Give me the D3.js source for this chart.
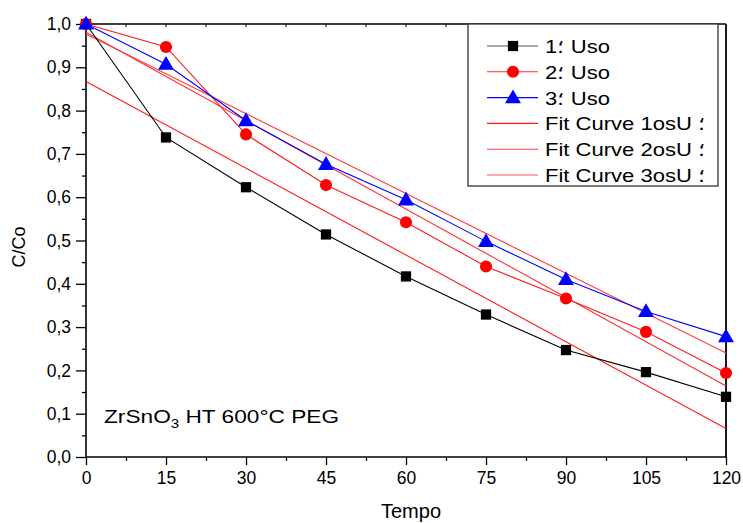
<!DOCTYPE html>
<html>
<head>
<meta charset="utf-8">
<script src="https://cdn.jsdelivr.net/npm/d3@7"></script>
<style>
  html, body { margin: 0; padding: 0; background: #fff; }
  svg { display: block; font-family: "Liberation Sans", Arial, sans-serif; }
</style>
</head>
<body>
<svg id="chart" width="743" height="523"></svg>
<script>
// Time (min) and normalised concentration for three reuse cycles
const tempo = [0, 15, 30, 45, 60, 75, 90, 105, 120];
const uso1 = [1.000, 0.738, 0.623, 0.514, 0.417, 0.329, 0.247, 0.196, 0.139];
const uso2 = [1.000, 0.947, 0.745, 0.628, 0.542, 0.440, 0.366, 0.289, 0.194];
const uso3 = [1.000, 0.907, 0.777, 0.676, 0.594, 0.498, 0.410, 0.336, 0.278];

// Linear fit lines: value at t = 0 and t = 120
const fitStart = [0.867, 0.981, 0.977];
const fitEnd = [0.066, 0.164, 0.240];

const xTicks = [0, 15, 30, 45, 60, 75, 90, 105, 120];
const yTicks = [0, 0.1, 0.2, 0.3, 0.4, 0.5, 0.6, 0.7, 0.8, 0.9, 1.0];

const legendLabels = ["1؛ Uso", "2؛ Uso", "3؛ Uso",
  "Fit Curve 1osU ؛", "Fit Curve 2osU ؛", "Fit Curve 3osU ؛"];

const svg = d3.select("#chart");
const pL = 86, pR = 726, pT = 24, pB = 457;

const x = d3.scaleLinear().domain([0, 120]).range([pL, pR]);
const y = d3.scaleLinear().domain([0, 1]).range([pB, pT]);
const fmt = d => d3.format(".1f")(d).replace(".", ",");

// Frame (top and right edges)
svg.append("line").attr("x1", pL).attr("x2", pR).attr("y1", pT).attr("y2", pT)
  .attr("stroke", "#000").attr("stroke-width", 1.6);
svg.append("line").attr("x1", pR).attr("x2", pR).attr("y1", pT).attr("y2", pB)
  .attr("stroke", "#000").attr("stroke-width", 1.8);

// Small ticks on the top edge
svg.append("g").selectAll("line").data(d3.range(7.5, 120, 7.5)).join("line")
  .attr("x1", d => x(d)).attr("x2", d => x(d))
  .attr("y1", pT).attr("y2", pT + 3)
  .attr("stroke", "#000").attr("stroke-width", 1);

// Bottom axis
const xAxis = svg.append("g").attr("transform", `translate(0,${pB})`)
  .call(d3.axisBottom(x).tickValues(xTicks).tickSize(8).tickPadding(7).tickFormat(d3.format("d")));
svg.append("g").attr("transform", `translate(0,${pB})`)
  .call(d3.axisBottom(x).tickValues(d3.range(7.5, 120, 15)).tickSize(4).tickFormat(""))
  .call(g => g.select(".domain").remove());

// Left axis
const yAxis = svg.append("g").attr("transform", `translate(${pL},0)`)
  .call(d3.axisLeft(y).tickValues(yTicks).tickSize(10).tickPadding(5).tickFormat(fmt));
svg.append("g").attr("transform", `translate(${pL},0)`)
  .call(d3.axisLeft(y).tickValues(d3.range(0.05, 1, 0.1)).tickSize(4).tickFormat(""))
  .call(g => g.select(".domain").remove());

xAxis.select(".domain").attr("d", `M${pL},0H${pR}`).attr("stroke-width", 1.6);
yAxis.select(".domain").attr("d", `M0,${pT}V${pB}`).attr("stroke-width", 1.6);
svg.selectAll(".tick line").attr("stroke", "#000").attr("stroke-width", 1.3);
svg.selectAll(".tick text").attr("font-size", 17.5).attr("fill", "#000")
  .attr("font-family", "Liberation Sans, Arial, sans-serif");

// Axis titles
svg.append("text").attr("x", 411).attr("y", 518).attr("text-anchor", "middle")
  .attr("font-size", 20).text("Tempo");
svg.append("text").attr("transform", "translate(25,247) rotate(-90)")
  .attr("text-anchor", "middle").attr("font-size", 18).text("C/Co");

// Fit lines
const fitColors = ["#ff1a1a", "#ff3030", "#ff3c3c"];
svg.append("g").selectAll("line").data(fitStart).join("line")
  .attr("x1", x(0)).attr("y1", d => y(d))
  .attr("x2", x(120)).attr("y2", (d, i) => y(fitEnd[i]))
  .attr("stroke", (d, i) => fitColors[i]).attr("stroke-width", 1.1);

// Data series
const series = [
  { vals: uso1, line: "#000", fill: "#000", shape: "square" },
  { vals: uso2, line: "#ff1a1a", fill: "#ff0000", shape: "circle" },
  { vals: uso3, line: "#0000ff", fill: "#0000ff", shape: "triangle" }
];
const lineGen = d3.line().x((d, i) => x(tempo[i])).y(d => y(d));
const symbolOf = {
  square: d3.symbol(d3.symbolSquare, 105),
  circle: d3.symbol(d3.symbolCircle, 115),
  triangle: d3.symbol(d3.symbolTriangle, 110)
};

series.forEach(s => {
  svg.append("path").datum(s.vals).attr("d", lineGen)
    .attr("fill", "none").attr("stroke", s.line).attr("stroke-width", 1.1);
});
series.forEach(s => {
  svg.append("g").selectAll("path").data(s.vals).join("path")
    .attr("transform", (d, i) => `translate(${x(tempo[i])},${y(d) + (s.shape === "triangle" ? 1 : 0)})`)
    .attr("d", symbolOf[s.shape]())
    .attr("fill", s.fill);
});

// Legend
const lg = svg.append("g");
lg.append("rect").attr("x", 468).attr("y", 24).attr("width", 250).attr("height", 162)
  .attr("fill", "#fff").attr("stroke", "#333").attr("stroke-width", 1.3);
const legendLine = ["#555", "#ff3030", "#0000ff", "#ff1a1a", "#ff4040", "#ff5050"];
legendLabels.forEach((lab, i) => {
  const cy = 46 + i * 25.8;
  lg.append("line").attr("x1", 487).attr("x2", 538).attr("y1", cy).attr("y2", cy)
    .attr("stroke", legendLine[i]).attr("stroke-width", 1.1);
  if (i < 3) {
    const s = series[i];
    lg.append("path").attr("transform", `translate(513,${cy + (s.shape === "triangle" ? 1 : 0)})`)
      .attr("d", symbolOf[s.shape]()).attr("fill", s.fill);
  }
  lg.append("text").attr("transform", `translate(545,${cy + 7}) scale(1.16,1)`)
    .attr("font-size", 19)
    .attr("direction", "ltr").attr("unicode-bidi", "bidi-override").text(lab);
});

// Sample annotation
const ann = svg.append("text").attr("transform", "translate(104,423) scale(1.26,1)")
  .attr("font-size", 18);
ann.append("tspan").text("ZrSnO");
ann.append("tspan").attr("font-size", 12).attr("dy", 5).text("3");
ann.append("tspan").attr("dy", -5).text(" HT 600°C PEG");
</script>
</body>
</html>
